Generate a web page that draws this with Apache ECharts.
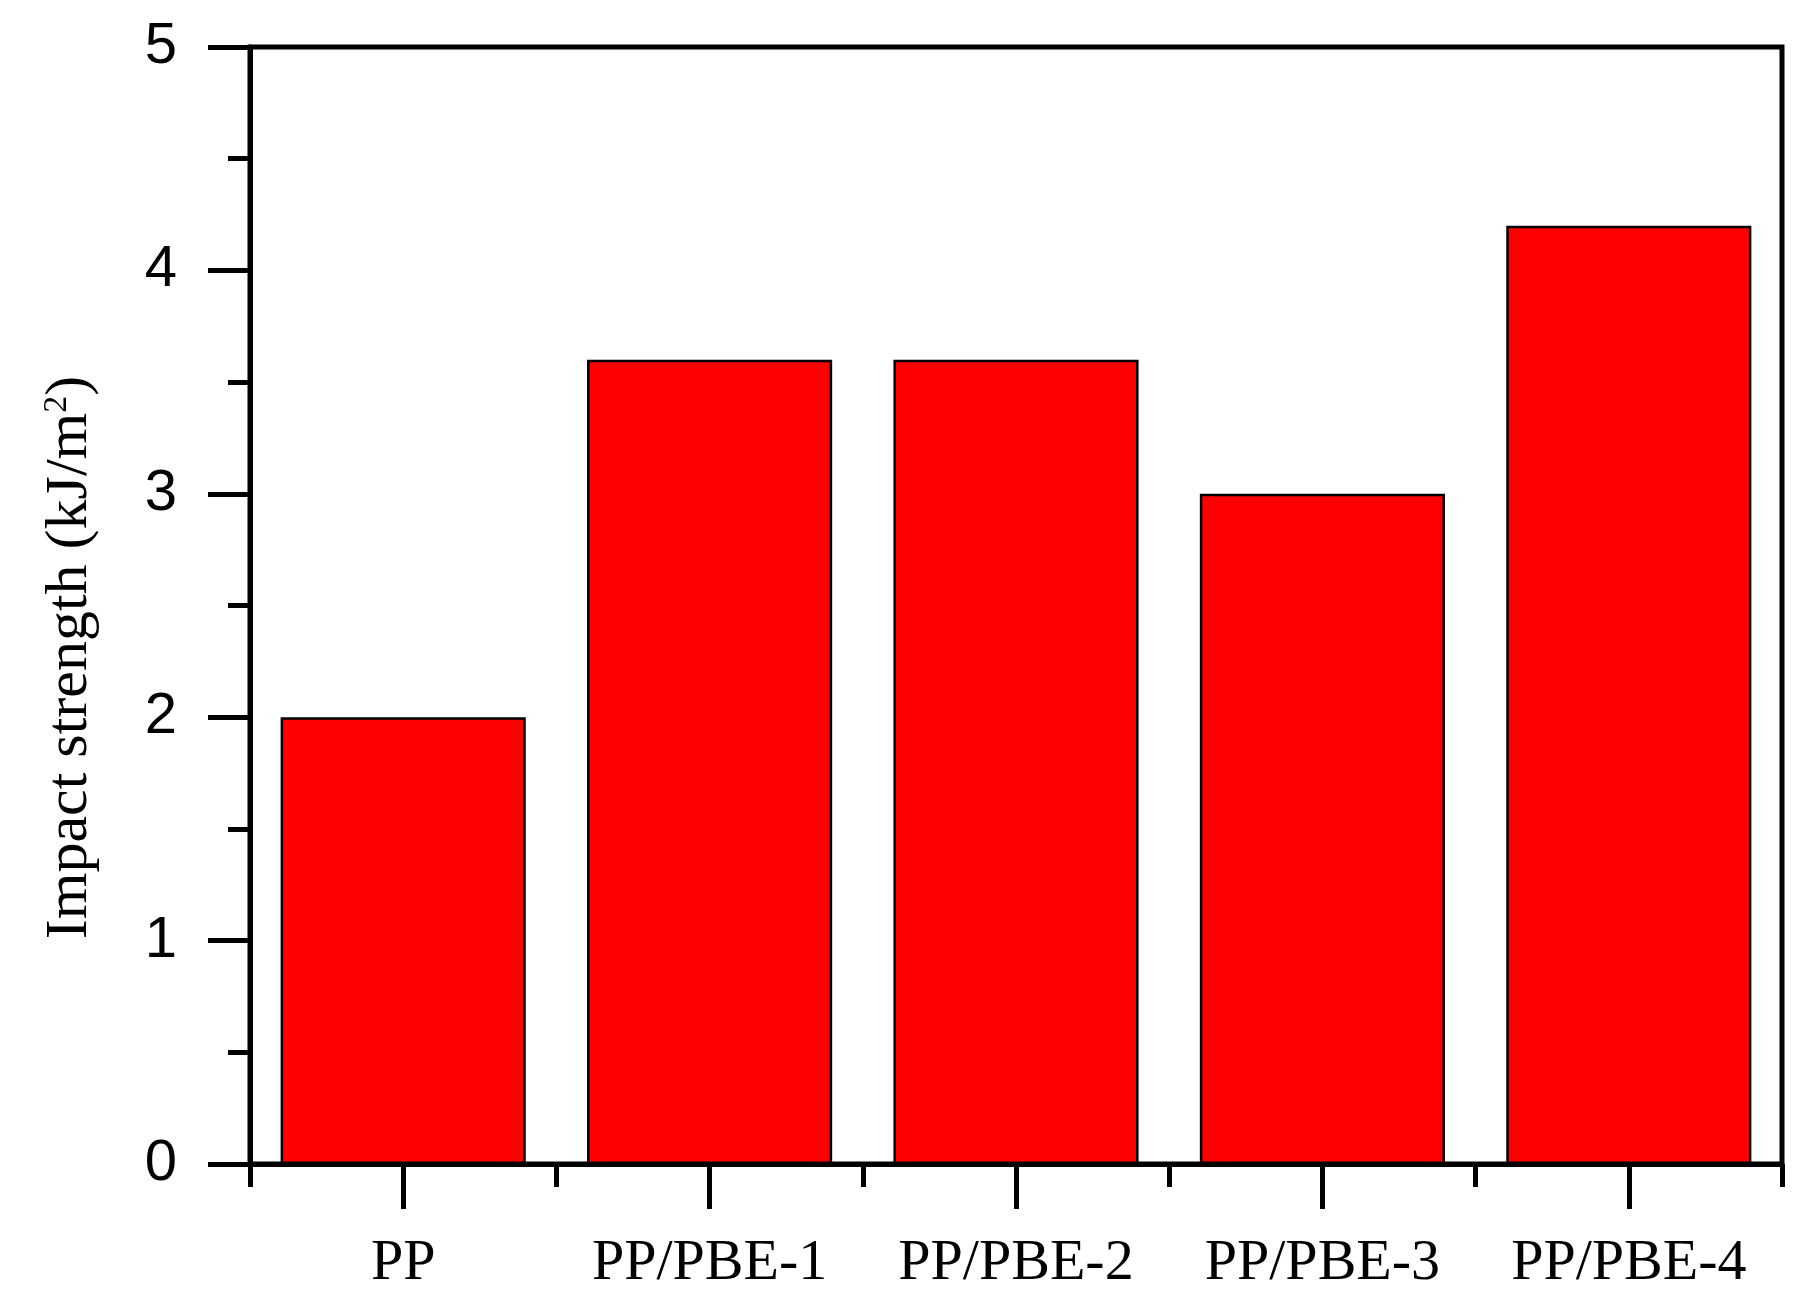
<!DOCTYPE html>
<html>
<head>
<meta charset="utf-8">
<script src="https://cdn.jsdelivr.net/npm/echarts@6/dist/echarts.min.js"></script>
<style>
  html, body { margin: 0; padding: 0; background: #fff; }
  #main { width: 1812px; height: 1297px; }
</style>
</head>
<body>
<div id="main"></div>
<script>
// samples and measured impact strength
var categories = ['PP', 'PP/PBE-1', 'PP/PBE-2', 'PP/PBE-3', 'PP/PBE-4'];
var impact = [2.0, 3.6, 3.6, 3.0, 4.2];
var yTicks = [0, 1, 2, 3, 4, 5];

var chart = echarts.init(document.getElementById('main'));

var lineW = 5;

var option = {
  backgroundColor: '#fff',
  animation: false,
  grid: {
    left: 250,
    right: 30,
    top: 47,
    bottom: 133,
    show: true,
    borderColor: '#000',
    borderWidth: lineW
  },
  xAxis: [{
    type: 'category',
    data: categories,
    position: 'bottom',
    axisLine: { show: true, lineStyle: { color: '#000', width: lineW } },
    axisTick: { show: true, interval: 0, length: 23, lineStyle: { color: '#000', width: lineW } },
    axisLabel: {
      margin: 71,
      interval: 0,
      color: '#000',
      fontFamily: 'Liberation Serif',
      fontSize: 58
    },
    splitLine: { show: false }
  }, {
    // longer ticks under each bar
    type: 'category',
    data: categories,
    position: 'bottom',
    axisLine: { show: false },
    axisTick: { show: true, interval: 0, alignWithLabel: true, length: 45, lineStyle: { color: '#000', width: lineW } },
    axisLabel: { show: false },
    splitLine: { show: false }
  }],
  yAxis: {
    type: 'value',
    min: yTicks[0],
    max: yTicks[yTicks.length - 1],
    interval: 1,
    name: 'Impact strength (kJ/m{sup|2})',
    nameLocation: 'middle',
    nameGap: 150,
    nameTextStyle: {
      color: '#000',
      fontFamily: 'Liberation Serif',
      fontSize: 60,
      padding: [0, 104, 0, 0],
      rich: {
        sup: {
          fontFamily: 'Liberation Serif',
          fontSize: 34,
          color: '#000',
          verticalAlign: 'top',
          lineHeight: 60
        }
      }
    },
    axisLine: { show: true, lineStyle: { color: '#000', width: lineW } },
    axisTick: { show: true, length: 42, lineStyle: { color: '#000', width: lineW } },
    minorTick: { show: true, splitNumber: 2, length: 22, lineStyle: { color: '#000', width: lineW } },
    axisLabel: {
      margin: 73,
      color: '#000',
      fontFamily: 'Liberation Sans',
      fontSize: 58,
      padding: [0, 0, 10, 0]
    },
    splitLine: { show: false }
  },
  series: [{
    type: 'bar',
    xAxisIndex: 0,
    data: impact,
    barCategoryGap: '20%',
    itemStyle: {
      color: '#ff0000',
      borderColor: '#000',
      borderWidth: 2.5
    }
  }]
};

chart.setOption(option);
</script>
</body>
</html>
